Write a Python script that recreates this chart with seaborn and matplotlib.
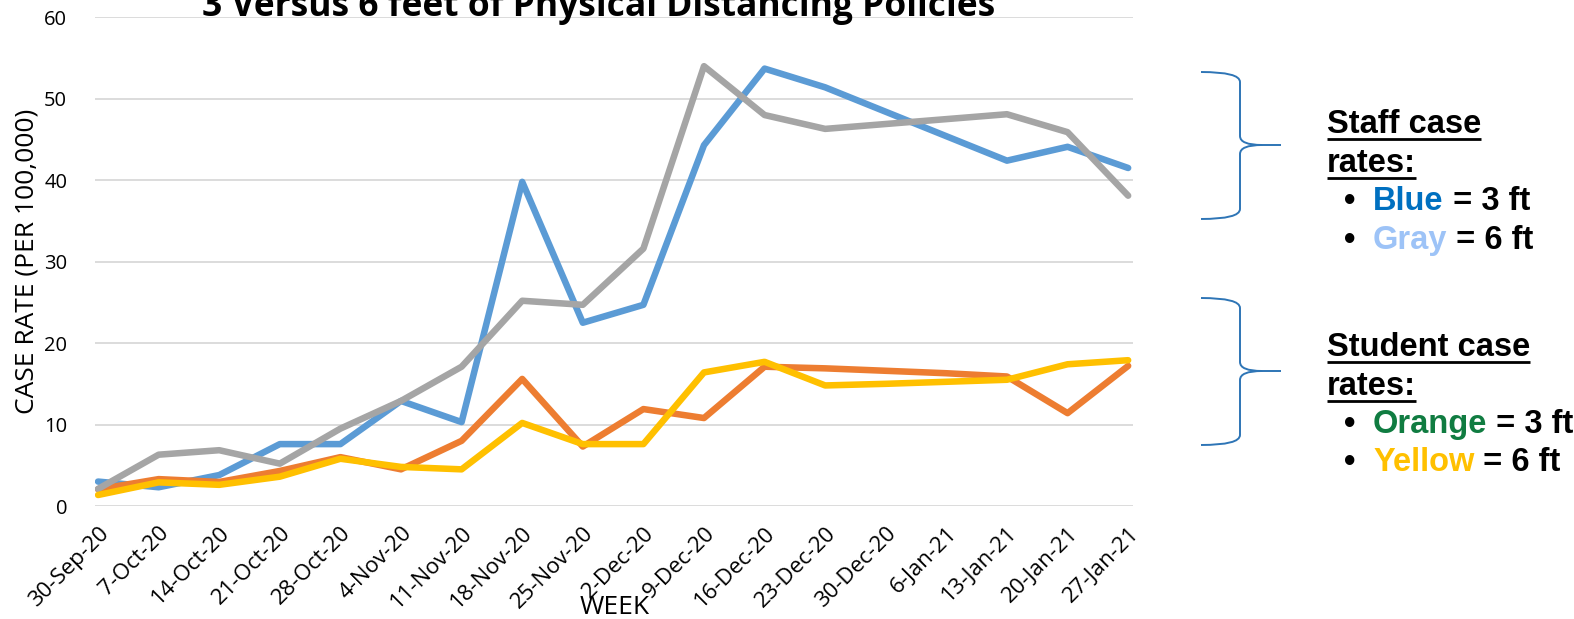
import numpy as np
import pandas as pd
import seaborn as sns
import matplotlib.pyplot as plt
from matplotlib.path import Path
from matplotlib.patches import PathPatch

weeks = ['30-Sep-20', '7-Oct-20', '14-Oct-20', '21-Oct-20', '28-Oct-20', '4-Nov-20',
         '11-Nov-20', '18-Nov-20', '25-Nov-20', '2-Dec-20', '9-Dec-20', '16-Dec-20',
         '23-Dec-20', '30-Dec-20', '6-Jan-21', '13-Jan-21', '20-Jan-21', '27-Jan-21']

staff_3ft = [3.0, 2.3, 3.8, 7.6, 7.6, 12.9, 10.3, 39.8, 22.5, 24.7, 44.3, 53.7,
             51.4, 48.4, 45.4, 42.4, 44.1, 41.5]
student_3ft = [2.05, 3.3, 2.95, 4.3, 6.0, 4.5, 8.0, 15.6, 7.3, 11.9, 10.8, 17.1,
               16.9, 16.6, 16.3, 15.9, 11.4, 17.2]
staff_6ft = [2.1, 6.3, 6.85, 5.2, 9.5, 12.9, 17.1, 25.2, 24.7, 31.6, 54.0, 48.0,
             46.3, 46.9, 47.5, 48.1, 45.9, 38.1]
student_6ft = [1.35, 2.9, 2.6, 3.6, 5.8, 4.8, 4.5, 10.2, 7.6, 7.6, 16.4, 17.7,
               14.8, 15.0, 15.25, 15.5, 17.4, 17.9]

series_names = ['Staff 3 ft', 'Student 3 ft', 'Staff 6 ft', 'Student 6 ft']
series_colors = ['#5B9BD5', '#ED7D31', '#A5A5A5', '#FFC000']

rows = []
for name, vals in zip(series_names, [staff_3ft, student_3ft, staff_6ft, student_6ft]):
    for i, v in enumerate(vals):
        rows.append({'week': i, 'rate': v, 'series': name})
df = pd.DataFrame(rows)

sns.set_style('white')
plt.rcParams['font.family'] = ['Open Sans', 'DejaVu Sans']
plt.rcParams['text.color'] = 'black'
plt.rcParams['axes.labelcolor'] = 'black'
plt.rcParams['xtick.color'] = 'black'
plt.rcParams['ytick.color'] = 'black'

W, H = 1574, 619
fig = plt.figure(figsize=(W / 100, H / 100), dpi=100)
ax = fig.add_axes([95 / W, 1 - 506 / H, (1133 - 95) / W, (506 - 17.3) / H])

sns.lineplot(data=df, x='week', y='rate', hue='series', hue_order=series_names,
             palette=series_colors, linewidth=4.7, legend=False, ax=ax,
             solid_capstyle='round', solid_joinstyle='round')

ax.set_xlim(-0.05, 17.08)
ax.set_ylim(0, 60)
ax.set_yticks(range(0, 61, 10))
ax.set_xticks(range(len(weeks)))
ax.set_xticklabels(weeks, rotation=45, ha='right', rotation_mode='anchor')
ax.tick_params(axis='y', length=0, pad=20, labelsize=14.5)
ax.tick_params(axis='x', length=0, pad=12, labelsize=16)
ax.yaxis.grid(True, color='#D9D9D9', linewidth=1.3)
ax.set_axisbelow(True)
for s in ax.spines.values():
    s.set_visible(False)
ax.set_xlabel('')
ax.set_ylabel('CASE RATE (PER 100,000)', fontsize=19, labelpad=3)

# overlay in pixel coordinates for title, week label and side notes
ov = fig.add_axes([0, 0, 1, 1], facecolor='none')
ov.set_xlim(0, W)
ov.set_ylim(H, 0)
ov.axis('off')

ov.text(599, 16, '3 Versus 6 feet of Physical Distancing Policies', ha='center',
        va='baseline', fontsize=25.5, fontweight='bold')
ov.text(615, 614, 'WEEK', ha='center', va='baseline', fontsize=19)

brace_color = '#2E75B6'


def brace(top, mid, bot):
    xl, xv, xt = 1201, 1240, 1281
    verts = [(xl, top), (xv, top), (xv, top + 10), (xv, mid - 9), (xv, mid), (xv + 22, mid),
             (xt, mid), (xv + 22, mid), (xv, mid), (xv, mid + 9), (xv, bot - 10),
             (xv, bot), (xl, bot)]
    codes = [Path.MOVETO, Path.CURVE3, Path.CURVE3, Path.LINETO, Path.CURVE3, Path.CURVE3,
             Path.LINETO, Path.MOVETO, Path.CURVE3, Path.CURVE3, Path.LINETO,
             Path.CURVE3, Path.CURVE3]
    ov.add_patch(PathPatch(Path(verts, codes), fill=False, edgecolor=brace_color, lw=1.4))


brace(72, 145, 219)
brace(298, 371, 445)

note_font = dict(family=['Liberation Sans', 'DejaVu Sans'], fontweight='bold', fontsize=23.5,
                 color='black')
heads = []


def heading(text, y):
    t = ov.text(1327, y, text, ha='left', va='baseline', **note_font)
    heads.append((t, y))


def bullet(word, color, rest, y):
    ov.text(1350, y, '\u2022', ha='center', va='baseline', **note_font)
    style = dict(note_font, color=color)
    t = ov.text(1373, y, word, ha='left', va='baseline', **style)
    ov.annotate(rest, xy=(1, 0), xycoords=t, ha='left', va='bottom', **note_font)


heading('Staff case', 133)
heading('rates:', 172)
bullet('Blue', '#0070C0', ' = 3 ft', 210)
bullet('Gray', '#9DC3F7', ' = 6 ft', 249)
heading('Student case', 356)
heading('rates:', 395)
bullet('Orange', '#107C41', ' = 3 ft', 433)
bullet('Yellow', '#FFC000', ' = 6 ft', 471)

fig.canvas.draw()
r = fig.canvas.get_renderer()
for t, y in heads:
    bb = t.get_window_extent(r)
    ov.plot([bb.x0, bb.x1], [y + 6, y + 6], color='black', lw=2, solid_capstyle='butt')

fig.savefig('out.png', dpi=100)
